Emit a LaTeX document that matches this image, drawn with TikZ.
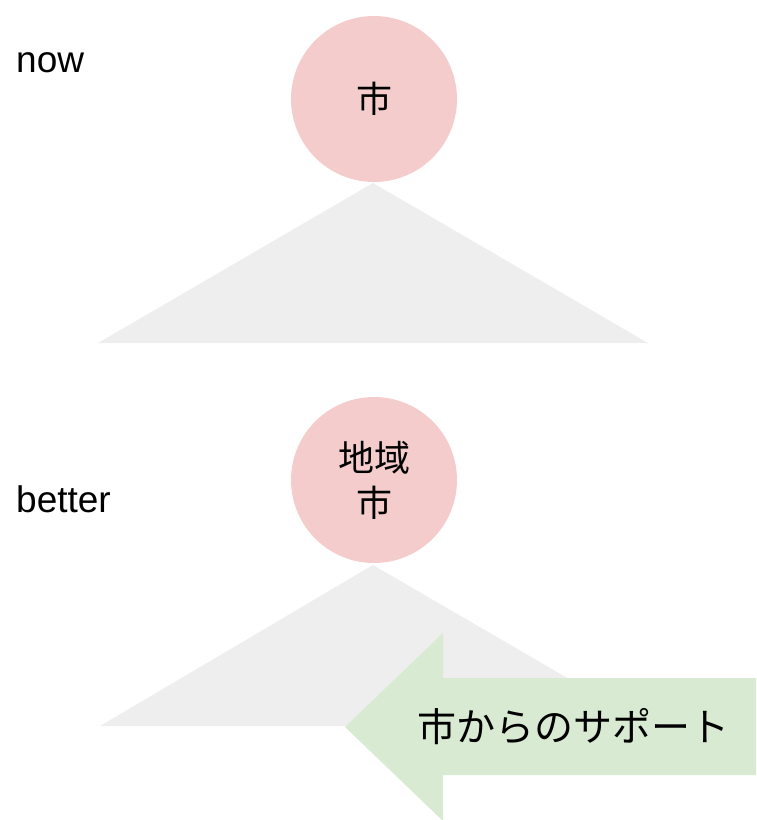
\documentclass[tikz,border=0pt]{standalone}
\usepackage{fontspec}
\setmainfont{Liberation Sans}
\newfontfamily\jpfont{Noto Sans CJK JP}
\definecolor{pinkc}{HTML}{F4CCCC}
\definecolor{grayt}{HTML}{EEEEEE}
\definecolor{greena}{HTML}{D9EAD3}
\begin{document}
\begin{tikzpicture}[x=1pt,y=-1pt,
  lbl/.style={font=\fontsize{37}{44}\selectfont, anchor=west, inner sep=0pt},
  bubble/.style={circle, fill=pinkc, minimum size=166pt, inner sep=0pt, align=center, font=\jpfont\fontsize{36}{45}\selectfont},
  tri/.style={fill=grayt},
  arr/.style={fill=greena}]
\useasboundingbox (0,0) rectangle (756,820);
\clip (0,0) rectangle (756,820);
% top
\node[lbl] (now) at (16,63) {now};
\fill[tri] (373,183) -- (648,343) -- (98,343) -- cycle;
\node[bubble] (c1) at (374,99) {市};
% bottom
\node[lbl] (better) at (16,499) {better};
\fill[tri] (373,565) -- (650,726) -- (100,726) -- cycle;
\node[bubble] (c2) at (374,480) {地域\\市};
\fill[arr] (760,678) -- (443,678) -- (443,633) -- (345,727) -- (443,821) -- (443,775) -- (760,775) -- cycle;
\node[font=\jpfont\fontsize{39}{44}\selectfont, inner sep=0pt] (sup) at (573,727) {市からのサポート};
\end{tikzpicture}
\end{document}
